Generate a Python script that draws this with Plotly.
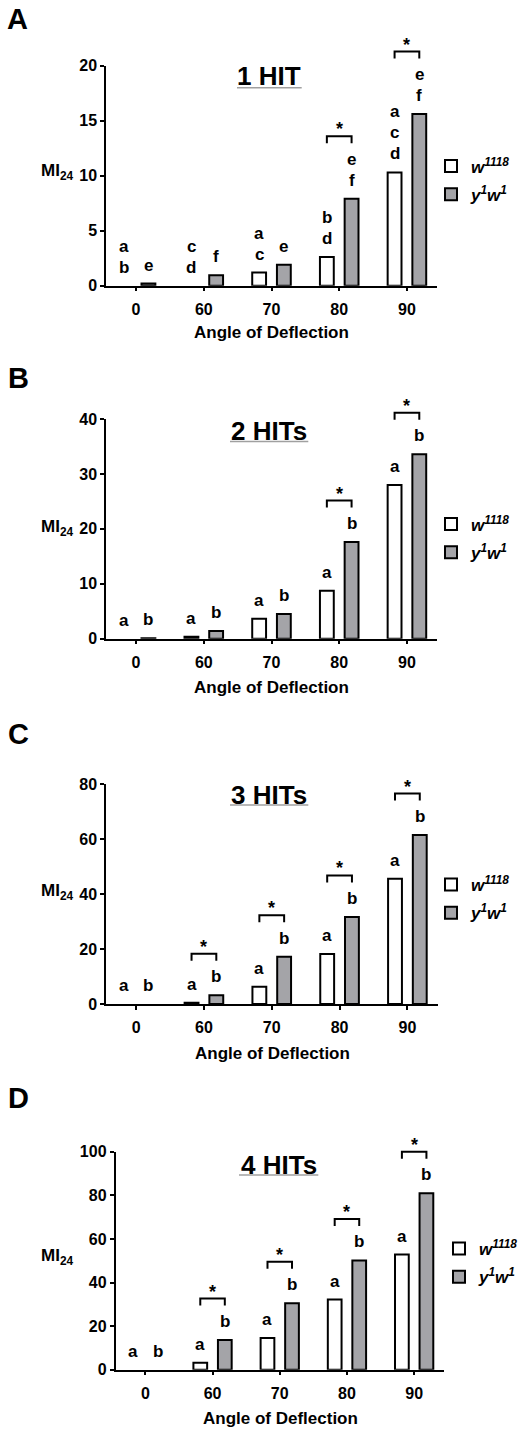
import plotly.graph_objects as go

W, H = 521, 1431
FONT = "Liberation Sans, Arial, Helvetica, sans-serif"

# ---------------- data ----------------
angles = ["0", "60", "70", "80", "90"]
panel_labels = ["A", "B", "C", "D"]
panel_titles = ["1 HIT", "2 HITs", "3 HITs", "4 HITs"]
series_names = ["<b><i>w<sup>1118</sup></i></b>", "<b><i>y<sup>1</sup>w<sup>1</sup></i></b>"]

w1118_A = [0, 0, 1.2, 2.6, 10.3]
y1w1_A = [0.2, 0.95, 1.9, 7.9, 15.6]
w1118_B = [0, 0.35, 3.65, 8.75, 28.0]
y1w1_B = [0.1, 1.4, 4.5, 17.6, 33.6]
w1118_C = [0, 0.5, 6.3, 18.2, 45.6]
y1w1_C = [0, 3.2, 17.2, 31.7, 61.5]
w1118_D = [0, 3.2, 14.5, 32.2, 52.8]
y1w1_D = [0, 13.6, 30.5, 50.1, 80.9]

# statistical letters (top to bottom) above each bar
letters_w1118_A = [["a", "b"], ["c", "d"], ["a", "c"], ["b", "d"], ["a", "c", "d"]]
letters_y1w1_A = [["e"], ["f"], ["e"], ["e", "f"], ["e", "f"]]
letters_w1118_BCD = [["a"], ["a"], ["a"], ["a"], ["a"]]
letters_y1w1_BCD = [["b"], ["b"], ["b"], ["b"], ["b"]]

sig_A = ["80", "90"]
sig_B = ["80", "90"]
sig_C = ["60", "70", "80", "90"]
sig_D = ["60", "70", "80", "90"]

y_max = [20, 40, 80, 100]
y_dtick = [5, 10, 20, 20]

panels = [
    (w1118_A, y1w1_A, letters_w1118_A, letters_y1w1_A, sig_A),
    (w1118_B, y1w1_B, letters_w1118_BCD, letters_y1w1_BCD, sig_B),
    (w1118_C, y1w1_C, letters_w1118_BCD, letters_y1w1_BCD, sig_C),
    (w1118_D, y1w1_D, letters_w1118_BCD, letters_y1w1_BCD, sig_D),
]

# ---------------- layout geometry (pixels) ----------------
plot_x = [(106, 437), (106, 437), (106, 437.5), (115.5, 444)]
plot_y = [(65.7, 285.7), (419, 638.7), (784.3, 1004), (1151.7, 1369.7)]
label_pos = [(17.8, 18.8), (18.3, 377.5), (18, 734), (18, 1098.3)]
title_pos = [(269, 76.3), (269.2, 431.2), (269.2, 795), (278.7, 1165)]
underline = [(237, 301.7, 87.8), (230, 308.3, 441.5), (230, 308.3, 805), (239, 318.3, 1175)]
ylab_pos = [(57.8, 171.7), (57.8, 528.3), (57.8, 891.7), (57.8, 1256.7)]
xlab_pos = [(271.7, 333), (271.7, 687.3), (272, 1053.3), (280, 1418.3)]
legend_pos = [(431, 180.5), (431, 538.5), (431, 899), (439, 1263)]

GRAY = "#a4a4a8"
BARGAP = 0.27
OFF = (1 - BARGAP) / 4


def px(x):
    return x / W


def py(y):
    return 1 - y / H


def drawn(vals):
    # a bar of height zero is not drawn at all
    return [v if v > 0 else None for v in vals]


fig = go.Figure()
annotations = []
shapes = []
idx = list(range(len(angles)))

for p, (wv, yv, lw, ly, sig) in enumerate(panels):
    n = p + 1
    sfx = "" if n == 1 else str(n)
    xa, ya = "x" + sfx, "y" + sfx
    leg = "legend" + sfx
    fig.add_trace(go.Bar(
        x=idx, y=drawn(wv), name=series_names[0], xaxis=xa, yaxis=ya,
        marker=dict(color="white", line=dict(color="black", width=2)),
        legend=leg, legendgroup=f"w{n}", offsetgroup="w",
    ))
    fig.add_trace(go.Bar(
        x=idx, y=drawn(yv), name=series_names[1], xaxis=xa, yaxis=ya,
        marker=dict(color=GRAY, line=dict(color="black", width=2)),
        legend=leg, legendgroup=f"y{n}", offsetgroup="y",
    ))

    (x0, x1), (y0, y1) = plot_x[p], plot_y[p]
    fig.update_layout(**{
        "xaxis" + sfx: dict(
            domain=[px(x0), px(x1)], range=[-0.444, 4.444], anchor=ya,
            tickvals=idx, ticktext=angles, ticks="outside", ticklen=4,
            tickwidth=1.5, tickcolor="black", showline=True, linecolor="black",
            linewidth=1.5, showgrid=False, zeroline=False, ticklabelstandoff=4,
            tickfont=dict(family=FONT, size=16, color="black", weight="bold"),
        ),
        "yaxis" + sfx: dict(
            domain=[py(y1), py(y0)], range=[0, y_max[p]], dtick=y_dtick[p],
            anchor=xa, ticks="outside", ticklen=4, tickwidth=1.5,
            tickcolor="black", showline=True, linecolor="black", linewidth=1.5,
            showgrid=False, zeroline=False,
            tickfont=dict(family=FONT, size=16, color="black", weight="bold"),
        ),
        leg: dict(
            x=px(legend_pos[p][0]), y=py(legend_pos[p][1]), xanchor="left",
            yanchor="middle", bgcolor="rgba(0,0,0,0)", tracegroupgap=3,
            font=dict(family=FONT, size=17, color="black"),
        ),
    })

    # letters above bars
    for i in idx:
        for vals, lets, sgn in ((wv, lw, -1), (yv, ly, 1)):
            for k, t in enumerate(reversed(lets[i])):
                annotations.append(dict(
                    x=i + sgn * OFF, y=vals[i], xref=xa, yref=ya, text=f"<b>{t}</b>",
                    showarrow=False, yanchor="middle", yshift=18.5 + 21 * k,
                    font=dict(family=FONT, size=17, color="black"),
                ))
    # significance brackets (anchored on the taller bar, offsets in pixels)
    for a in sig:
        i = angles.index(a)
        ntop = len(ly[i])
        top = 18.5 + 21 * (ntop - 1)
        yb = top + 16
        yt = yb + 7
        shapes.append(dict(
            type="path", xref=xa, yref=ya + " domain", ysizemode="pixel",
            yanchor=yv[i] / y_max[p],
            path=f"M {i - OFF},{yb} L {i - OFF},{yt} L {i + OFF},{yt} L {i + OFF},{yb}",
            line=dict(color="black", width=2),
        ))
        annotations.append(dict(
            x=i, y=yv[i], xref=xa, yref=ya, text="<b>*</b>", showarrow=False,
            yanchor="middle", yshift=yt + 7,
            font=dict(family=FONT, size=18, color="black"),
        ))

    # panel label, title, axis labels
    annotations.append(dict(
        x=px(label_pos[p][0]), y=py(label_pos[p][1]), xref="paper", yref="paper",
        text=f"<b>{panel_labels[p]}</b>", showarrow=False, xanchor="center",
        yanchor="middle", font=dict(family=FONT, size=29, color="black"),
    ))
    annotations.append(dict(
        x=px(title_pos[p][0]), y=py(title_pos[p][1]), xref="paper", yref="paper",
        text=f"<b>{panel_titles[p]}</b>", showarrow=False, xanchor="center",
        yanchor="middle", font=dict(family=FONT, size=26, color="black"),
    ))
    ux0, ux1, uy = underline[p]
    shapes.append(dict(
        type="line", xref="paper", yref="paper", x0=px(ux0), x1=px(ux1),
        y0=py(uy), y1=py(uy), line=dict(color="#a0a0a0", width=1.5),
    ))
    annotations.append(dict(
        x=px(ylab_pos[p][0]), y=py(ylab_pos[p][1]), xref="paper", yref="paper",
        text="<b>MI<sub>24</sub></b>", showarrow=False, xanchor="center",
        yanchor="middle", font=dict(family=FONT, size=17, color="black"),
    ))
    annotations.append(dict(
        x=px(xlab_pos[p][0]), y=py(xlab_pos[p][1]), xref="paper", yref="paper",
        text="<b>Angle of Deflection</b>", showarrow=False, xanchor="center",
        yanchor="middle", font=dict(family=FONT, size=17, color="black"),
    ))

fig.update_layout(
    width=W, height=H,
    margin=dict(l=0, r=0, t=0, b=0, autoexpand=False),
    paper_bgcolor="white", plot_bgcolor="white",
    barmode="group", bargap=BARGAP, bargroupgap=0.44,
    annotations=annotations, shapes=shapes,
    font=dict(family=FONT, color="black"),
)

fig.write_html(
    "out.html",
    config={"displayModeBar": False},
    post_script="document.body.style.margin='0px';document.body.style.overflow='hidden';",
)
